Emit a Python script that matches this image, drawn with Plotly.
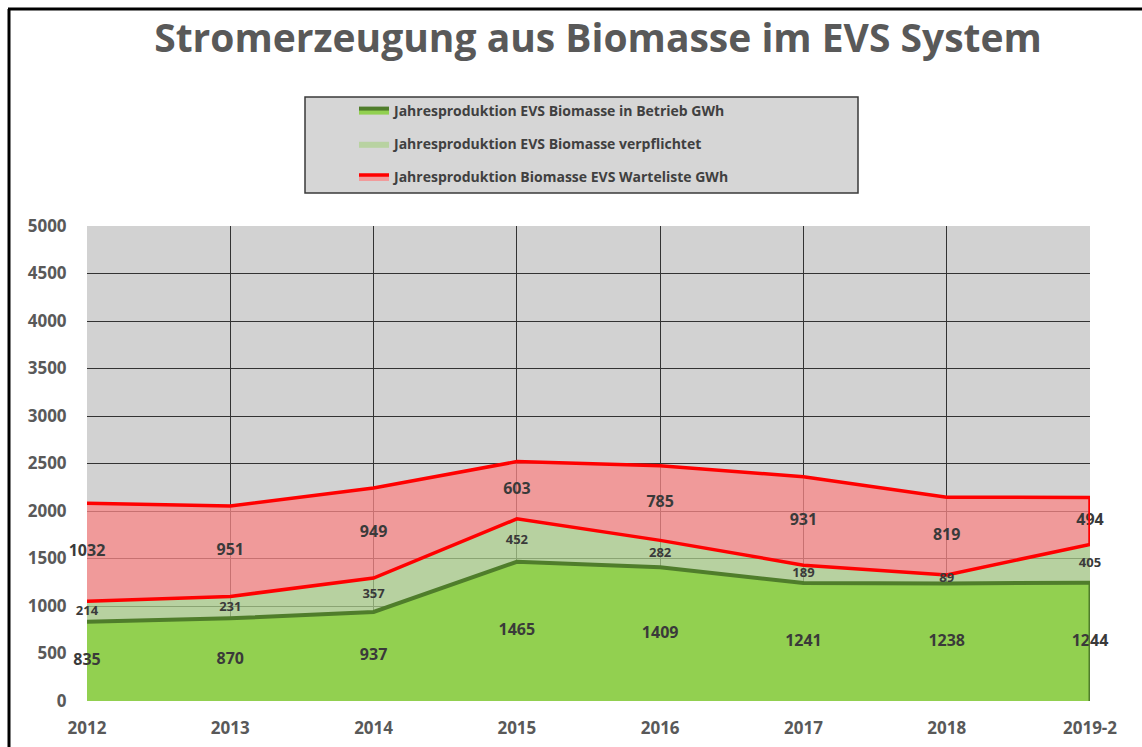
import plotly.graph_objects as go

years = ["2012", "2013", "2014", "2015", "2016", "2017", "2018", "2019-2"]
betrieb = [835, 870, 937, 1465, 1409, 1241, 1238, 1244]
verpflichtet = [214, 231, 357, 452, 282, 189, 89, 405]
warteliste = [1032, 951, 949, 603, 785, 931, 819, 494]

name_betrieb = "Jahresproduktion EVS Biomasse in Betrieb GWh"
name_verpf = "Jahresproduktion EVS Biomasse verpflichtet"
name_warte = "Jahresproduktion Biomasse EVS Warteliste GWh"

lvl1 = betrieb
lvl2 = [a + b for a, b in zip(betrieb, verpflichtet)]
lvl3 = [a + b for a, b in zip(lvl2, warteliste)]

FONT = "Open Sans"
LABEL = "#3a3a3a"

# plot area pixel geometry (for paper-coordinate decorations)
PX_L, PX_R, PX_T, PX_B = 87, 1090, 226, 701
def px(x):
    return (x - PX_L) / (PX_R - PX_L)
def py(y):
    return (PX_B - y) / (PX_B - PX_T)

fig = go.Figure()

fig.add_trace(go.Scatter(
    x=years, y=betrieb, name=name_betrieb, stackgroup="s", mode="lines",
    line=dict(color="#4f7d2b", width=4), fillcolor="#92d050",
    legendgroup="a", hoverinfo="skip"))
fig.add_trace(go.Scatter(
    x=years, y=verpflichtet, name=name_verpf, stackgroup="s", mode="lines",
    line=dict(color="rgba(180,215,150,0.6)", width=0), fillcolor="rgba(172,208,140,0.72)",
    legendgroup="b", hoverinfo="skip"))
fig.add_trace(go.Scatter(
    x=years, y=warteliste, name=name_warte, stackgroup="s", mode="lines",
    line=dict(color="#ff0000", width=3.5), fillcolor="rgba(250,135,135,0.75)",
    legendgroup="c", hoverinfo="skip"))
# red lower boundary of the waiting-list band
fig.add_trace(go.Scatter(
    x=years, y=lvl2, mode="lines", line=dict(color="#ff0000", width=3.5),
    showlegend=False, hoverinfo="skip"))

# data labels at segment centres
fig.add_trace(go.Scatter(
    x=years, y=[v / 2 for v in lvl1], mode="text",
    text=[str(v) for v in betrieb], textposition="middle center",
    textfont=dict(family=FONT, size=16, color=LABEL, weight="bold"),
    showlegend=False, hoverinfo="skip", cliponaxis=False))
fig.add_trace(go.Scatter(
    x=years, y=[(a + b) / 2 for a, b in zip(lvl1, lvl2)], mode="text",
    text=[str(v) for v in verpflichtet], textposition="middle center",
    textfont=dict(family=FONT, size=13, color=LABEL, weight="bold"),
    showlegend=False, hoverinfo="skip", cliponaxis=False))
fig.add_trace(go.Scatter(
    x=years, y=[(a + b) / 2 for a, b in zip(lvl2, lvl3)], mode="text",
    text=[str(v) for v in warteliste], textposition="middle center",
    textfont=dict(family=FONT, size=16, color=LABEL, weight="bold"),
    showlegend=False, hoverinfo="skip", cliponaxis=False))

shapes = [
    # legend box
    dict(type="rect", xref="paper", yref="paper",
         x0=px(305), x1=px(858), y0=py(193), y1=py(97),
         fillcolor="#d6d6d6", line=dict(color="#3a3a3a", width=1.5), layer="below"),
    # outer frame (left and top)
    dict(type="line", xref="paper", yref="paper",
         x0=px(9), x1=px(9), y0=py(9), y1=py(760),
         line=dict(color="black", width=3)),
    dict(type="line", xref="paper", yref="paper",
         x0=px(8), x1=px(1160), y0=py(9), y1=py(9),
         line=dict(color="black", width=3)),
    # left red edge
    dict(type="line", xref="x", yref="y", x0=years[0], x1=years[0], y0=0, y1=lvl3[0],
         line=dict(color="#ff0000", width=2.5)),
    dict(type="line", xref="x", yref="y", x0=years[0], x1=years[0], y0=lvl3[0], y1=5000,
         line=dict(color="rgba(255,80,120,0.6)", width=1.5)),
    # right edges
    dict(type="line", xref="x", yref="y", x0=years[-1], x1=years[-1], y0=lvl2[-1], y1=lvl3[-1],
         line=dict(color="#ff0000", width=3.5)),
    dict(type="line", xref="x", yref="y", x0=years[-1], x1=years[-1], y0=0, y1=lvl1[-1],
         line=dict(color="#4f7d2b", width=3)),
    dict(type="line", xref="x", yref="y", x0=years[0], x1=years[-1], y0=0, y1=0,
         line=dict(color="#4f7d2b", width=3)),
]

fig.update_layout(
    width=1142, height=747,
    margin=dict(l=PX_L, r=1142 - PX_R, t=PX_T, b=747 - PX_B),
    paper_bgcolor="white", plot_bgcolor="#d2d2d2",
    title=dict(text="Stromerzeugung aus Biomasse im EVS System",
               font=dict(family=FONT, size=39, color="#595959", weight="bold"),
               x=px(598), xref="paper", xanchor="center",
               y=1 - 38 / 747, yref="container", yanchor="middle"),
    showlegend=True,
    legend=dict(x=px(354), y=py(95), xanchor="left", yanchor="top",
                bgcolor="rgba(0,0,0,0)", borderwidth=0,
                font=dict(family=FONT, size=14, color="#404040", weight="bold"),
                traceorder="grouped", tracegroupgap=12),
    xaxis=dict(type="category", range=[0, len(years) - 1], automargin=False,
               showgrid=True, gridcolor="#333333", gridwidth=1,
               ticks="outside", ticklen=12, tickcolor="rgba(0,0,0,0)",
               tickfont=dict(family=FONT, size=17, color="#595959", weight="bold"),
               showline=False, zeroline=False),
    yaxis=dict(range=[0, 5000], dtick=500, automargin=False,
               showgrid=True, gridcolor="#333333", gridwidth=1,
               ticks="outside", ticklen=16, tickcolor="rgba(0,0,0,0)",
               tickfont=dict(family=FONT, size=17, color="#595959", weight="bold"),
               showline=False, zeroline=False),
    shapes=shapes,
    hovermode=False,
)

fig.write_html("out.html", config={"displayModeBar": False},
               post_script="document.body.style.margin='0';document.body.style.padding='0';")
